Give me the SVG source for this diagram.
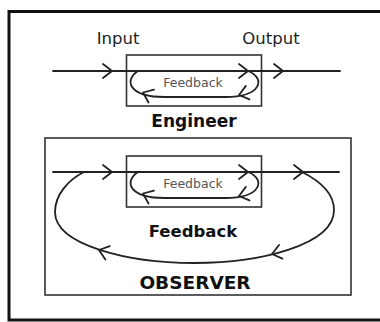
<svg xmlns="http://www.w3.org/2000/svg" xmlns:xlink="http://www.w3.org/1999/xlink" width="380" height="322" viewBox="0 0 380 322">
  <style>
    .frame { fill: none; stroke: #111; stroke-width: 3; }
    .box { fill: none; stroke: #333; stroke-width: 1.6; }
    .wire { fill: none; stroke: #222; stroke-width: 1.8; stroke-linecap: round; stroke-linejoin: round; }
    .label { font-family: "DejaVu Sans", Verdana, sans-serif; fill: #222; text-anchor: middle; }
    .small { font-size: 12.5px; fill: #555; }
    .io { font-size: 16.5px; }
    .title { font-weight: bold; fill: #111; }
  </style>
  <defs>
    <!-- open chevron arrowhead, tip at origin, pointing along +x -->
    <path id="chev" class="wire" d="M -9 -7 L 0 0 L -9 7"/>
    <!-- system box with its inner feedback loop, drawn at the upper position -->
    <g id="system">
      <rect class="box" x="126.5" y="55" width="135" height="51"/>
      <path class="wire" d="M 248 71 C 266 78, 262 97, 225 97 L 165 97 C 128 97, 124 80, 138 71"/>
      <use xlink:href="#chev" transform="translate(248,71)"/>
      <use xlink:href="#chev" transform="translate(239,95) rotate(165)"/>
      <use xlink:href="#chev" transform="translate(143,92.5) rotate(203)"/>
      <text class="label small" x="193" y="87">Feedback</text>
    </g>
  </defs>

  <!-- outer frame (open to the right) -->
  <rect class="frame" x="9" y="11.5" width="390" height="308.5"/>

  <g id="engineer">
    <use xlink:href="#system"/>
    <text class="label io" x="118" y="44">Input</text>
    <text class="label io" x="271" y="44">Output</text>
    <text class="label title" x="194" y="127" font-size="17">Engineer</text>
  </g>

  <g id="observer">
    <rect class="box" x="45" y="138" width="306" height="157"/>
    <use xlink:href="#system" transform="translate(0,101)"/>
    <text class="label title" x="193" y="237" font-size="16.5">Feedback</text>
    <text class="label title" x="195" y="289" font-size="18.5">OBSERVER</text>
  </g>

  <g id="connectors">
    <!-- engineer signal path -->
    <path class="wire" d="M 53 71 H 340"/>
    <use xlink:href="#chev" transform="translate(112,71)"/>
    <use xlink:href="#chev" transform="translate(283,71)"/>
    <!-- observer signal path -->
    <path class="wire" d="M 53 172 H 339"/>
    <use xlink:href="#chev" transform="translate(112,172)"/>
    <use xlink:href="#chev" transform="translate(303,172)"/>
    <!-- outer feedback loop -->
    <path class="wire" d="M 302 172 C 322 182, 334 195, 334 210 C 334 245, 260 263, 194 263 C 128 263, 55 245, 55 212 C 55 195, 68 180, 84 172"/>
    <use xlink:href="#chev" transform="translate(272,254) rotate(166)"/>
    <use xlink:href="#chev" transform="translate(99,250) rotate(198)"/>
  </g>
</svg>
